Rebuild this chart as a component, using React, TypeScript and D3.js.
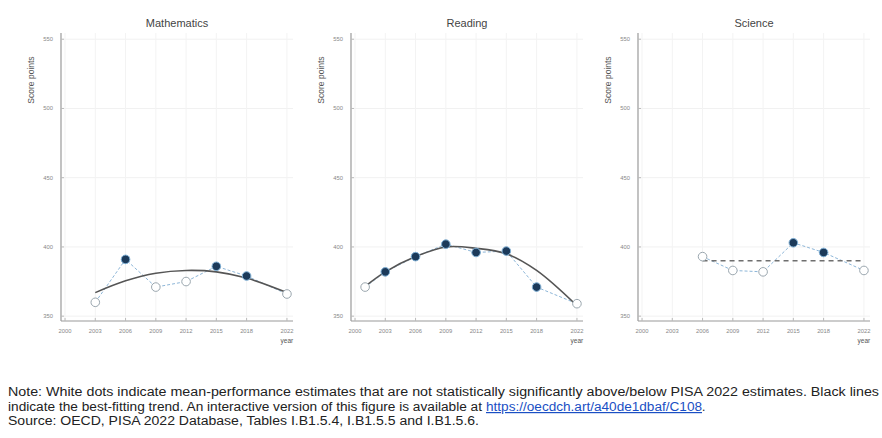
import React from "react";
import * as d3 from "d3";

const yTicks = [350, 400, 450, 500, 550];
const xTicks = [2000, 2003, 2006, 2009, 2012, 2015, 2018, 2022];

const mathYears = [2003, 2006, 2009, 2012, 2015, 2018, 2022];
const mathValues = [360, 391, 371, 375, 386, 379, 366];
const mathSignif = [false, true, false, false, true, true, false];
const mathTrend = [367, 375.5, 381, 383, 382, 377.5, 367];

const readYears = [2001, 2003, 2006, 2009, 2012, 2015, 2018, 2022];
const readValues = [371, 382, 393, 402, 396, 397, 371, 359];
const readSignif = [false, true, true, true, true, true, true, false];
const readTrend = [371.5, 382, 393, 400, 399, 395, 383, 357.5];

const sciYears = [2006, 2009, 2012, 2015, 2018, 2022];
const sciValues = [393, 383, 382, 403, 396, 383];
const sciSignif = [false, false, false, true, true, false];
const sciTrend = [390, 390, 390, 390, 390, 390];

const titles = ["Mathematics", "Reading", "Science"];

type PanelProps = {
  axisX: number;
  title: string;
  years: number[];
  values: number[];
  signif: boolean[];
  trend: number[];
  trendDashed: boolean;
};

const yScale = d3.scaleLinear().domain([346.5, 554.5]).range([321, 33]);

function Panel({ axisX, title, years, values, signif, trend, trendDashed }: PanelProps) {
  const x = d3.scaleLinear().domain([1999.6, 2022.6]).range([axisX, axisX + 232]);
  const y = yScale;
  const pts = years.map((yr, i) => [x(yr), y(values[i])] as [number, number]);
  const connector = d3.line()(pts) || "";
  const trendPts = years.map((yr, i) => [x(yr), y(trend[i])] as [number, number]);
  const trendPath = (trendDashed ? d3.line() : d3.line().curve(d3.curveCatmullRom.alpha(0.5)))(trendPts) || "";
  const bottom = 321;
  const top = 33;
  return (
    <g>
      {yTicks.map((t) => (
        <line key={"gy" + t} x1={axisX} x2={axisX + 232} y1={y(t)} y2={y(t)} stroke="#f1f1f1" strokeWidth={1} />
      ))}
      {xTicks.map((t) => (
        <line key={"gx" + t} x1={x(t)} x2={x(t)} y1={top} y2={bottom} stroke="#f3f3f3" strokeWidth={1} />
      ))}
      <line x1={axisX} x2={axisX} y1={top} y2={bottom} stroke="#9a9a9a" strokeWidth={1.2} />
      <line x1={axisX} x2={axisX + 232} y1={bottom} y2={bottom} stroke="#9a9a9a" strokeWidth={1.2} />
      {yTicks.map((t) => (
        <g key={"ty" + t}>
          <line x1={axisX} x2={axisX + 3} y1={y(t)} y2={y(t)} stroke="#bbb" />
          <text x={axisX - 8} y={y(t) + 2} textAnchor="end" fontSize={5.8} fill="#888" fontFamily="Liberation Sans, Arial, sans-serif">
            {t}
          </text>
        </g>
      ))}
      {xTicks.map((t) => (
        <g key={"tx" + t}>
          <line x1={x(t)} x2={x(t)} y1={bottom} y2={bottom - 3} stroke="#bbb" />
          <text x={x(t)} y={333} textAnchor="middle" fontSize={5.8} fill="#888" fontFamily="Liberation Sans, Arial, sans-serif">
            {t}
          </text>
        </g>
      ))}
      <text x={x(2022)} y={343} textAnchor="middle" fontSize={6.5} fill="#555" fontFamily="Liberation Sans, Arial, sans-serif">
        year
      </text>
      <text
        transform={`translate(${axisX - 27},80) rotate(-90)`}
        textAnchor="middle"
        fontSize={8.5}
        fill="#555"
        fontFamily="Liberation Sans, Arial, sans-serif"
      >
        Score points
      </text>
      <text x={axisX + 116} y={27} textAnchor="middle" fontSize={11} fill="#444" fontFamily="Liberation Sans, Arial, sans-serif">
        {title}
      </text>
      <path d={connector} fill="none" stroke="#8db6d8" strokeWidth={1} strokeDasharray="3,2" />
      <path
        d={trendPath}
        fill="none"
        stroke={trendDashed ? "#6f6f6f" : "#555"}
        strokeWidth={trendDashed ? 1.5 : 1.6}
        strokeDasharray={trendDashed ? "5,4" : undefined}
      />
      {pts.map(([px, py], i) => (
        <circle
          key={"p" + i}
          cx={px}
          cy={py}
          r={4.3}
          fill={signif[i] ? "#1c3a5a" : "#ffffff"}
          stroke={signif[i] ? "#7fb0d6" : "#9aa6ae"}
          strokeWidth={1}
        />
      ))}
    </g>
  );
}

export default function App() {
  const font = "'Liberation Sans Narrow', 'Arial Narrow', 'Liberation Sans', Arial, sans-serif";
  return (
    <>
      <style>{`body{margin:0}`}</style>
      <svg width={882} height={438} style={{ display: "block", background: "#fff" }}>
        <Panel axisX={61} title={titles[0]} years={mathYears} values={mathValues} signif={mathSignif} trend={mathTrend} trendDashed={false} />
        <Panel axisX={351} title={titles[1]} years={readYears} values={readValues} signif={readSignif} trend={readTrend} trendDashed={false} />
        <Panel axisX={638} title={titles[2]} years={sciYears} values={sciValues} signif={sciSignif} trend={sciTrend} trendDashed={true} />
        <text x={8} y={396} fontSize={12} fill="#222" fontFamily={font} textLength={871} lengthAdjust="spacingAndGlyphs">
          Note: White dots indicate mean-performance estimates that are not statistically significantly above/below PISA 2022 estimates. Black lines
        </text>
        <text x={8} y={411} fontSize={12} fill="#222" fontFamily={font} textLength={474} lengthAdjust="spacingAndGlyphs">
          indicate the best-fitting trend. An interactive version of this figure is available at
        </text>
        <text x={486} y={411} fontSize={12} fill="#1a4fc4" textDecoration="underline" fontFamily={font} textLength={216} lengthAdjust="spacingAndGlyphs">
          https://oecdch.art/a40de1dbaf/C108
        </text>
        <text x={702} y={411} fontSize={12} fill="#222" fontFamily={font}>
          .
        </text>
        <text x={8} y={425} fontSize={12} fill="#222" fontFamily={font} textLength={471} lengthAdjust="spacingAndGlyphs">
          Source: OECD, PISA 2022 Database, Tables I.B1.5.4, I.B1.5.5 and I.B1.5.6.
        </text>
      </svg>
    </>
  );
}
